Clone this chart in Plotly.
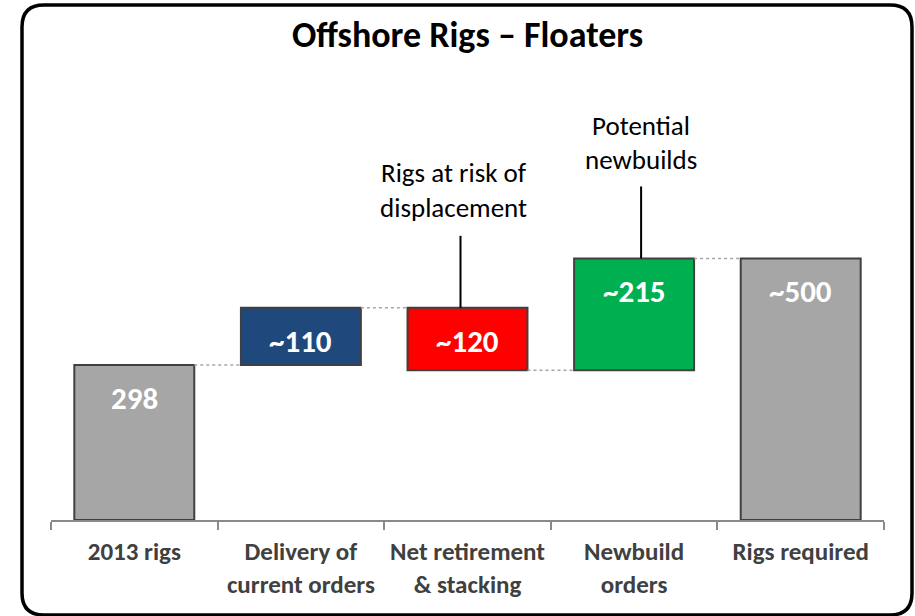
import numpy as np
import plotly.graph_objects as go

# ---------------------------------------------------------------------------
# Data
# ---------------------------------------------------------------------------
categories = [
    "2013 rigs",
    "Delivery of<br>current orders",
    "Net retirement<br>& stacking",
    "Newbuild<br>orders",
    "Rigs required",
]
steps = [298, 110, -120, 215]          # start value, then changes
value_labels = ["298", "~110", "~120", "~215", "~500"]
bar_colors = ["#A6A6A6", "#1F497D", "#FF0000", "#00B050", "#A6A6A6"]

callout_red = ["Rigs at risk of", "displacement"]
callout_green = ["Potential", "newbuilds"]

# ---------------------------------------------------------------------------
# Layout constants (pixels)
# ---------------------------------------------------------------------------
W, H = 915, 616
ML, MR, MT, MB = 51, 31, 60, 96
PW, PH = W - ML - MR, H - MT - MB
FONT = "Carlito, Calibri, Lato, sans-serif"
BAR_W = 0.72


def px_to_paper(x, y):
    return (x - ML) / PW, (H - MB - y) / PH


running = np.cumsum(steps)              # 298, 408, 288, 503
total = running[-1]
bases = [0] + list(running[:-1]) + [0]
heights = list(steps) + [total]
tops = [max(b, b + h) for b, h in zip(bases, heights)]

fig = go.Figure(go.Bar(
    x=categories,
    y=heights,
    base=bases,
    width=BAR_W,
    marker=dict(color=bar_colors, line=dict(color="#404040", width=2)),
    hoverinfo="skip",
))

# value labels inside bars
for cat, top, lab in zip(categories, tops, value_labels):
    fig.add_annotation(
        x=cat, y=top, text=f"<b>{lab}</b>", showarrow=False,
        yanchor="middle", yshift=-33,
        font=dict(family=FONT, size=31, color="white"),
    )

# dotted connectors between bars
for i, level in enumerate(running):
    fig.add_shape(
        type="line", xref="x", yref="y",
        x0=i + BAR_W / 2, x1=i + 1 - BAR_W / 2, y0=level, y1=level,
        line=dict(color="#A6A6A6", width=1.5, dash="dot"),
    )


# callouts
def callout(idx, top, lines, dx_line, dx_text, gaps):
    xc = idx + dx_line
    fig.add_shape(
        type="line", xref="x", yref="y", ysizemode="pixel", yanchor=top,
        x0=xc, x1=xc, y0=0, y1=72,
        line=dict(color="black", width=2),
    )
    for text, gap in zip(lines, gaps):
        fig.add_annotation(
            x=xc, y=top, text=text, showarrow=False,
            yanchor="middle", yshift=72 + gap, xshift=dx_text,
            font=dict(family=FONT, size=27, color="black"),
        )


callout(2, tops[2], callout_red, -0.042, -7, [63, 28])
callout(3, tops[3], callout_green, 0.042, 0, [61, 27])

# rounded frame
x0, y0, x1, y1, r = 22, 5, 912, 615, 22
pts = [
    ("M", x0 + r, y0), ("L", x1 - r, y0), ("Q", x1, y0, x1, y0 + r),
    ("L", x1, y1 - r), ("Q", x1, y1, x1 - r, y1), ("L", x0 + r, y1),
    ("Q", x0, y1, x0, y1 - r), ("L", x0, y0 + r), ("Q", x0, y0, x0 + r, y0),
]
path = ""
for p in pts:
    cmd, coords = p[0], p[1:]
    conv = []
    for k in range(0, len(coords), 2):
        px, py = px_to_paper(coords[k], coords[k + 1])
        conv.append(f"{px:.5f},{py:.5f}")
    path += cmd + " ".join(conv) + " "
fig.add_shape(type="path", xref="paper", yref="paper", path=path + "Z",
              line=dict(color="black", width=3.5), layer="above")

fig.update_layout(
    width=W, height=H,
    margin=dict(l=ML, r=MR, t=MT, b=MB),
    paper_bgcolor="white", plot_bgcolor="white",
    showlegend=False,
    title=dict(
        text="<b>Offshore Rigs – Floaters</b>",
        x=(ML + PW / 2) / W, xanchor="center",
        y=1 - 34 / H, yanchor="middle",
        font=dict(family=FONT, size=36, color="black"),
    ),
    xaxis=dict(
        showline=True, linecolor="#898989", linewidth=2,
        ticks="outside", tickson="boundaries", ticklen=8,
        tickcolor="#898989", tickwidth=2,
        tickfont=dict(family=FONT, size=25, color="#404040", weight="bold"),
        tickangle=0, automargin=False,
        ticklabelstandoff=8,
        showgrid=False, zeroline=False, range=[-0.5, 4.5],
    ),
    yaxis=dict(
        visible=False, range=[0, PH / 0.52], showgrid=False, zeroline=False,
    ),
)

# drop the default 8px page margin so the figure sits at the window corner
fig.write_html(
    "out.html",
    config={"displayModeBar": False},
    post_script="document.body.style.margin='0';",
)
